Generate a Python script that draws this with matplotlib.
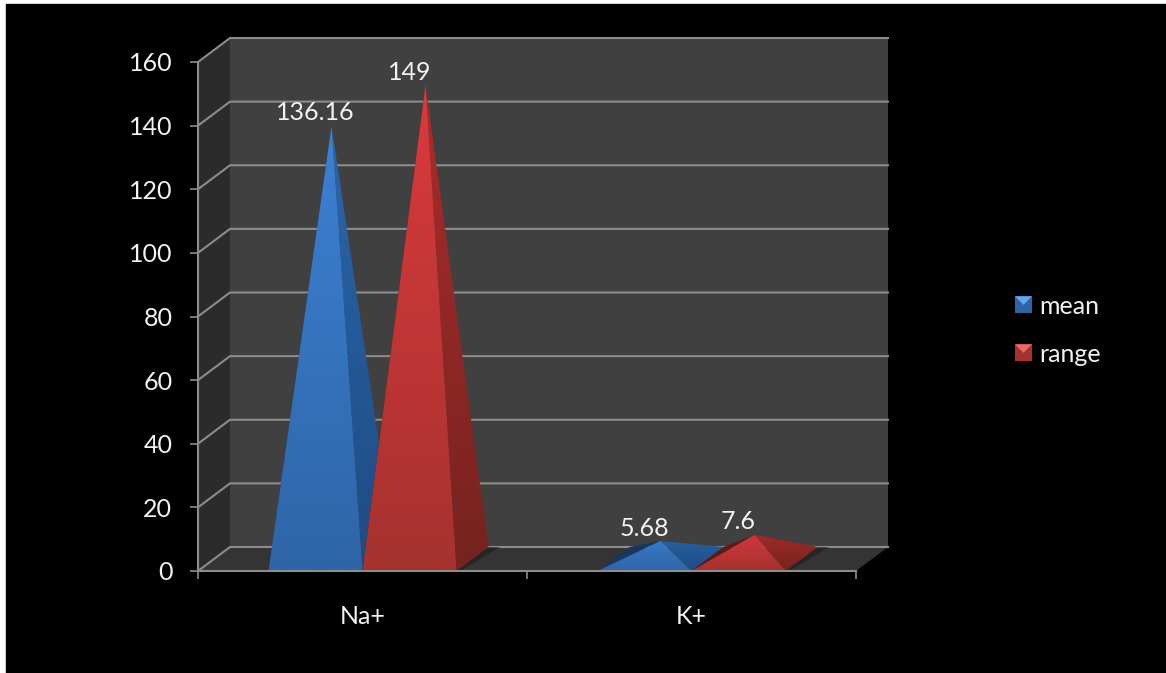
import numpy as np
import matplotlib
matplotlib.use("Agg")
import matplotlib.pyplot as plt
from matplotlib.colors import to_rgb
from matplotlib.legend_handler import HandlerBase
from matplotlib.patches import Patch, Polygon, Rectangle

categories = ["Na+", "K+"]
series_names = ["mean", "range"]
mean_values = [136.16, 5.68]
range_values = [149, 7.6]
value_labels = [["136.16", "5.68"], ["149", "7.6"]]
y_ticks = [0, 20, 40, 60, 80, 100, 120, 140, 160]

W, H = 1166, 673
plt.rcParams["font.family"] = ["Lato", "DejaVu Sans"]

# front plane of the fake 3d box, in pixels
LEFT, RIGHT, ZERO, TOP = 198, 856, 571, 62
PX_X = (RIGHT - LEFT) / 2
PX_Y = (ZERO - TOP) / 160
DX = 32 / PX_X
DY = 24 / PX_Y
BAR = 94 / PX_X

LINE = "#8c8c8c"
TEXT = "#f2f2f2"
FS = 18
FRONT = [("#3c82d4", "#2f65a8"), ("#dc3a3c", "#a6322f")]
SIDE = [("#2a66ac", "#1f4c82"), ("#ad2c2a", "#752320")]
LEFT_FACE = ["#17375e", "#5a1a18"]
ICON_TOP = ["#62a8ee", "#ee6a6a"]

fig = plt.figure(figsize=(W / 100, H / 100), dpi=100, facecolor="white")
fig.patches.append(Rectangle((6 / W, 0), 1, 1 - 4 / H, transform=fig.transFigure, color="black", zorder=-5))
ax = fig.add_axes([LEFT / W, 1 - ZERO / H, (RIGHT - LEFT) / W, (ZERO - TOP) / H])
ax.patch.set_visible(False)


def gradient_face(points, top, bottom, height, z):
    # vertical gradient clipped to one face of a pyramid
    colors = np.linspace(to_rgb(top), to_rgb(bottom), 64)[:, None, :]
    im = ax.imshow(colors, extent=(0, 2, 0, height + DY), aspect="auto", zorder=z, interpolation="bilinear")
    im.set_clip_path(Polygon(points, transform=ax.transData))


def pyramid(x0, value, s, z):
    x1 = x0 + BAR
    apex = (x0 + (BAR + DX) / 2, value + DY / 2)
    back_l = (x0 + DX, DY)
    back_r = (x1 + DX, DY)
    # soft shadow on the floor
    ax.fill([x1, back_r[0], back_r[0] + 0.035, x1 + 0.012], [0, DY, DY, 0], color="#1c1c1c", alpha=0.6, lw=0, zorder=z - 0.5, clip_on=False)
    ax.fill([x0, back_l[0], apex[0]], [0, DY, apex[1]], color=LEFT_FACE[s], lw=0, zorder=z)
    gradient_face([(x1, 0), back_r, apex], SIDE[s][0], SIDE[s][1], value, z + 0.1)
    gradient_face([(x0, 0), (x1, 0), apex], FRONT[s][0], FRONT[s][1], value, z + 0.2)
    return x0 + BAR / 2, apex[1]


# walls and floor
ax.fill([0, DX, DX, 0], [0, DY, 160 + DY, 160], color="#2b2b2b", lw=0, zorder=1, clip_on=False)
ax.fill([DX, 2 + DX, 2 + DX, DX], [DY, DY, 160 + DY, 160 + DY], color="#404040", lw=0, zorder=1, clip_on=False)
ax.fill([0, 2, 2 + DX, DX], [0, 0, DY, DY], color="#343434", lw=0, zorder=1, clip_on=False)

for t in y_ticks:
    ax.plot([0, DX, 2 + DX], [t, t + DY, t + DY], color=LINE, lw=1.5, zorder=2, clip_on=False, solid_joinstyle="miter")

all_values = [mean_values, range_values]
z = 3
for c in range(len(categories)):
    start = c + 0.5 - BAR
    for s in range(len(series_names)):
        label_x, label_y = pyramid(start + s * BAR, all_values[s][c], s, z)
        ax.annotate(value_labels[s][c], (label_x, label_y), xytext=(0, 1), textcoords="offset points",
                    ha="center", va="bottom", color=TEXT, fontsize=FS, zorder=20, annotation_clip=False)
        z += 1

ax.set_xlim(0, 2)
ax.set_ylim(0, 160)
ax.set_yticks(y_ticks)
ax.set_xticks([0, 1, 2])
ax.set_xticklabels([])
ax.set_xticks([0.5, 1.5], labels=categories, minor=True)
ax.tick_params(axis="x", which="major", length=5.5, width=1.2, color=LINE)
ax.tick_params(axis="x", which="minor", length=0, pad=24.5, labelcolor=TEXT, labelsize=FS)
ax.tick_params(axis="y", length=5.5, width=1.2, color=LINE, labelcolor=TEXT, labelsize=FS, pad=13)
for name in ["top", "right"]:
    ax.spines[name].set_visible(False)
for name in ["left", "bottom"]:
    ax.spines[name].set_color(LINE)
    ax.spines[name].set_linewidth(1.5)
    ax.spines[name].set_zorder(30)


class PyramidIcon(HandlerBase):
    def create_artists(self, legend, handle, xd, yd, width, height, fontsize, trans):
        x, y = -xd, -yd
        square = Rectangle((x, y), width, width, facecolor=handle.get_facecolor(), transform=trans)
        top = Polygon([(x, y + width), (x + width, y + width), (x + width / 2, y + width / 2)],
                      facecolor=handle.get_edgecolor(), transform=trans)
        return [square, top]


handles = [Patch(facecolor=FRONT[i][1], edgecolor=ICON_TOP[i]) for i in range(2)]
leg = fig.legend(handles, series_names, loc="center left", bbox_to_anchor=(1015 / W, 1 - 330 / H),
                 frameon=False, fontsize=FS, labelcolor=TEXT, labelspacing=1.0, handlelength=0.68,
                 handleheight=0.68, handletextpad=0.3, borderpad=0, borderaxespad=0,
                 handler_map={Patch: PyramidIcon()})

fig.savefig("out.png", dpi=100, facecolor=fig.get_facecolor())
